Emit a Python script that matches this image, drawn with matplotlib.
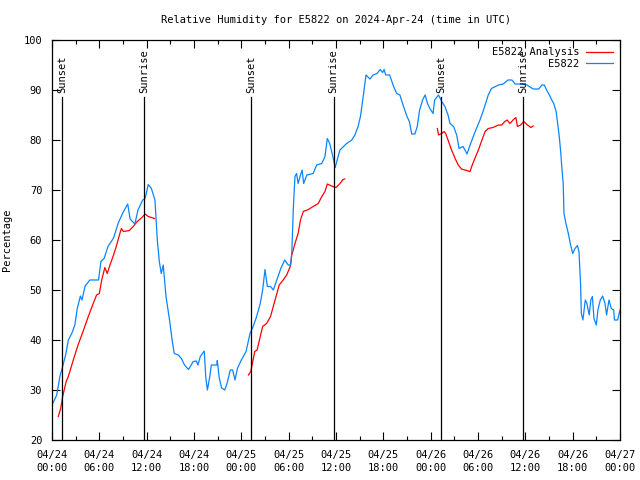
import numpy as np
import pandas as pd
import matplotlib
matplotlib.use("Agg")
import matplotlib.pyplot as plt
import matplotlib.dates as mdates

start = pd.Timestamp("2024-04-24 00:00")

# observed RH (hours since 04/24 00:00, percent)
obs_hours = [0.0, 0.6, 1.0, 1.35, 1.77, 2.07, 2.5, 2.9, 3.2, 3.6, 3.8, 4.2, 4.8, 5.9, 6.2, 6.6,
             7.1, 7.8, 8.4, 9.0, 9.6, 9.9, 10.5, 10.9, 11.5, 11.8, 12.2, 12.6, 13.05, 13.35, 13.6,
             13.85, 14.1, 14.45, 14.9, 15.25, 15.5, 16.0, 16.4, 16.8, 17.3, 17.9, 18.3, 18.5, 18.8,
             19.3, 19.5, 19.7, 20.0, 20.2, 20.9, 20.95, 21.2, 21.5, 21.9, 22.2, 22.6, 22.9, 23.2,
             23.5, 24.0, 24.6, 25.1, 25.5, 25.9, 26.4, 26.7, 27.0, 27.3, 27.7, 28.05, 28.5, 29.0,
             29.5, 29.95, 30.25, 30.4, 30.6, 30.8, 31.0, 31.2, 31.5, 31.7, 31.9, 32.3, 33.1, 33.55,
             34.2, 34.6, 34.9, 35.2, 35.6, 35.9, 36.2, 36.5, 37.35, 38.0, 38.4, 38.8, 39.1, 39.5,
             39.8, 40.3, 40.7, 41.2, 41.6, 41.9, 42.1, 42.3, 42.8, 43.3, 43.7, 44.1, 44.5, 45.0,
             45.3, 45.6, 46.0, 46.3, 46.6, 47.0, 47.3, 47.6, 47.9, 48.3, 48.5, 49.0, 49.4, 49.8,
             50.2, 50.45, 50.9, 51.3, 51.6, 52.1, 52.35, 52.6, 53.0, 53.4, 53.8, 54.25, 54.7, 55.3,
             55.7, 56.6, 57.2, 57.8, 58.3, 58.7, 59.3, 60.2, 61.0, 61.7, 62.1, 62.4, 62.7, 63.05,
             63.35, 63.6, 63.9, 64.1, 64.3, 64.5, 64.6, 64.8, 64.9, 65.15, 65.45, 65.7, 66.0, 66.3,
             66.6, 66.8, 67.0, 67.1, 67.3, 67.6, 67.8, 68.1, 68.3, 68.5, 68.7, 69.0, 69.2, 69.5,
             69.8, 70.1, 70.3, 70.6, 70.9, 71.2, 71.3, 71.7, 72.0]
obs_rh = [27.0, 29.0, 32.7, 34.7, 37.3, 40.0, 41.3, 43.0, 46.3, 48.8, 48.0, 50.8, 52.0, 52.0, 55.7, 56.3,
          58.7, 60.4, 63.4, 65.5, 67.2, 64.2, 63.2, 66.0, 68.0, 68.3, 71.1, 70.3, 68.0, 60.0, 55.7,
          53.3, 55.0, 48.7, 44.0, 39.7, 37.3, 37.0, 36.3, 35.0, 34.1, 35.7, 35.8, 35.0, 36.7,
          37.8, 32.4, 30.0, 32.7, 35.0, 35.0, 35.9, 32.4, 30.4, 30.0, 31.4, 34.0, 34.0, 32.0,
          34.3, 36.0, 37.7, 41.3, 42.7, 44.5, 47.3, 50.0, 54.1, 50.7, 50.7, 50.0, 52.0, 54.3,
          56.0, 55.0, 55.0, 57.7, 66.7, 72.7, 73.3, 71.3, 73.0, 74.0, 71.3, 73.0, 73.3, 75.0,
          75.3, 76.7, 80.3, 79.3, 76.7, 74.5, 76.3, 78.0, 79.3, 80.0, 81.0, 82.7, 84.7, 89.3,
          93.0, 92.2, 93.0, 93.3, 94.1, 93.5, 94.1, 93.0, 93.0, 90.7, 89.3, 89.0, 87.0, 84.7,
          83.7, 81.2, 81.2, 82.7, 86.0, 88.1, 89.0, 87.3, 86.3, 85.3, 88.0, 89.0, 87.7, 86.7,
          85.0, 83.3, 82.7, 81.0, 78.3, 78.7, 78.0, 77.2, 79.0, 80.7, 82.3, 84.0, 86.0, 89.0,
          90.3, 91.0, 91.2, 92.0, 92.0, 91.2, 91.2, 91.0, 90.2, 90.2, 91.0, 91.0, 90.0, 89.0,
          88.0, 87.3, 85.7, 83.3, 80.7, 77.3, 75.0, 71.3, 65.3, 63.3, 61.3, 59.3, 57.3, 58.3,
          58.9, 57.7, 51.3, 45.3, 44.0, 48.0, 47.3, 45.0, 48.0, 48.7, 44.3, 43.0, 46.0, 48.0,
          48.8, 47.3, 45.0, 48.0, 46.3, 46.0, 44.0, 44.0, 46.0]

# analysis RH, three runs separated by gaps (None)
ana_hours = [0.8, 1.1, 1.35, 1.8, 2.07, 2.7, 3.3, 4.0, 4.6, 5.15, 5.65, 6.0, 6.3, 6.7, 7.0, 7.35,
             7.8, 8.2, 8.6, 8.8, 9.05, 9.8, 10.3, 10.8, 11.4, 11.8, 12.2, 13.0,
             13.1,
             24.9, 25.2, 25.45, 25.7, 26.0, 26.4, 26.7, 27.2, 27.7, 28.05, 28.4, 28.8, 29.3, 29.75,
             30.2, 30.4, 30.8, 31.2, 31.5, 31.85, 32.5, 33.1, 33.75, 34.2, 34.6, 34.9, 35.45, 36.0,
             36.5, 36.9, 37.1,
             37.2,
             48.85, 49.0, 49.4, 49.7, 49.9, 50.2, 50.65, 51.1, 51.5, 51.9, 52.35, 53.0, 53.2, 53.6,
             54.05, 54.5, 54.9, 55.3, 55.9, 56.6, 57.0, 57.4, 57.7, 58.05, 58.5, 58.8, 59.0, 59.4,
             59.8, 60.2, 60.7, 61.0]
ana_rh = [24.7, 26.3, 28.7, 31.7, 32.7, 36.0, 39.0, 42.0, 44.7, 47.0, 49.0, 49.3, 52.0, 54.5, 53.3, 55.0,
          57.0, 59.0, 61.3, 62.3, 61.7, 61.9, 62.7, 63.7, 64.5, 65.2, 64.7, 64.3,
          None,
          33.0, 33.7, 35.7, 37.7, 38.0, 40.7, 42.7, 43.3, 44.7, 46.7, 48.7, 51.0, 52.0, 53.0,
          54.7, 57.0, 59.3, 61.3, 64.0, 65.7, 66.1, 66.7, 67.3, 68.7, 69.7, 71.2, 70.8, 70.5,
          71.3, 72.1, 72.2,
          None,
          82.3, 81.0, 81.3, 81.7, 81.3, 80.0, 78.0, 76.3, 75.0, 74.2, 74.0, 73.7, 74.7, 76.3,
          78.0, 80.0, 81.7, 82.3, 82.5, 83.0, 83.0, 83.7, 84.0, 83.3, 84.1, 84.5, 82.7, 83.0,
          83.7, 83.1, 82.5, 82.8]

sunset_times = ["2024-04-24 01:16", "2024-04-25 01:13", "2024-04-26 01:18"]
sunrise_times = ["2024-04-24 11:40", "2024-04-25 11:42", "2024-04-26 11:42"]

plt.rcParams["font.family"] = "DejaVu Sans Mono"
plt.rcParams["font.size"] = 7.5

fig = plt.figure(figsize=(6.4, 4.8), dpi=100)
ax = fig.add_axes([52 / 640, 40 / 480, 568 / 640, 400 / 480])

t_obs = start + pd.to_timedelta(obs_hours, unit="h")
t_ana = start + pd.to_timedelta(ana_hours, unit="h")
ana_vals = np.array([np.nan if v is None else v for v in ana_rh])

ax.plot(t_ana, ana_vals, color="#ff0000", lw=0.9, label="E5822 Analysis")
ax.plot(t_obs, obs_rh, color="#0a84ff", lw=0.9, label="E5822")

for t in sunset_times:
    ts = pd.Timestamp(t)
    ax.plot([ts, ts], [20, 88.5], color="black", lw=0.9)
    ax.text(ts, 89.4, "Sunset", rotation=90, ha="center", va="bottom")
for t in sunrise_times:
    ts = pd.Timestamp(t)
    ax.plot([ts, ts], [20, 88.5], color="black", lw=0.9)
    ax.text(ts, 89.4, "Sunrise", rotation=90, ha="center", va="bottom")

ax.set_xlim(start, start + pd.Timedelta(hours=72))
ax.set_ylim(20, 100)
ax.set_yticks(range(20, 101, 10))
ax.xaxis.set_major_locator(mdates.HourLocator(byhour=[0, 6, 12, 18]))
ax.xaxis.set_minor_locator(mdates.HourLocator(byhour=range(0, 24, 3)))
ax.xaxis.set_major_formatter(mdates.DateFormatter("%m/%d\n%H:%M"))
ax.tick_params(which="both", direction="in", top=True, right=True, width=0.8)
ax.tick_params(which="major", length=6, pad=7)
ax.tick_params(which="minor", length=3)
for s in ax.spines.values():
    s.set_linewidth(0.9)

ax.set_ylabel("Percentage")
ax.yaxis.set_label_coords(-40 / 568, 0.5)
ax.set_title("Relative Humidity for E5822 on 2024-Apr-24 (time in UTC)", fontsize=7.5, pad=12)

ax.legend(loc="upper right", frameon=False, markerfirst=False, handlelength=2.6,
          borderaxespad=0.3, labelspacing=0.12, handletextpad=0.6)

fig.canvas.draw()
for lab in ax.get_xticklabels():
    lab.set_linespacing(1.4)

fig.savefig("out.png", dpi=100)
